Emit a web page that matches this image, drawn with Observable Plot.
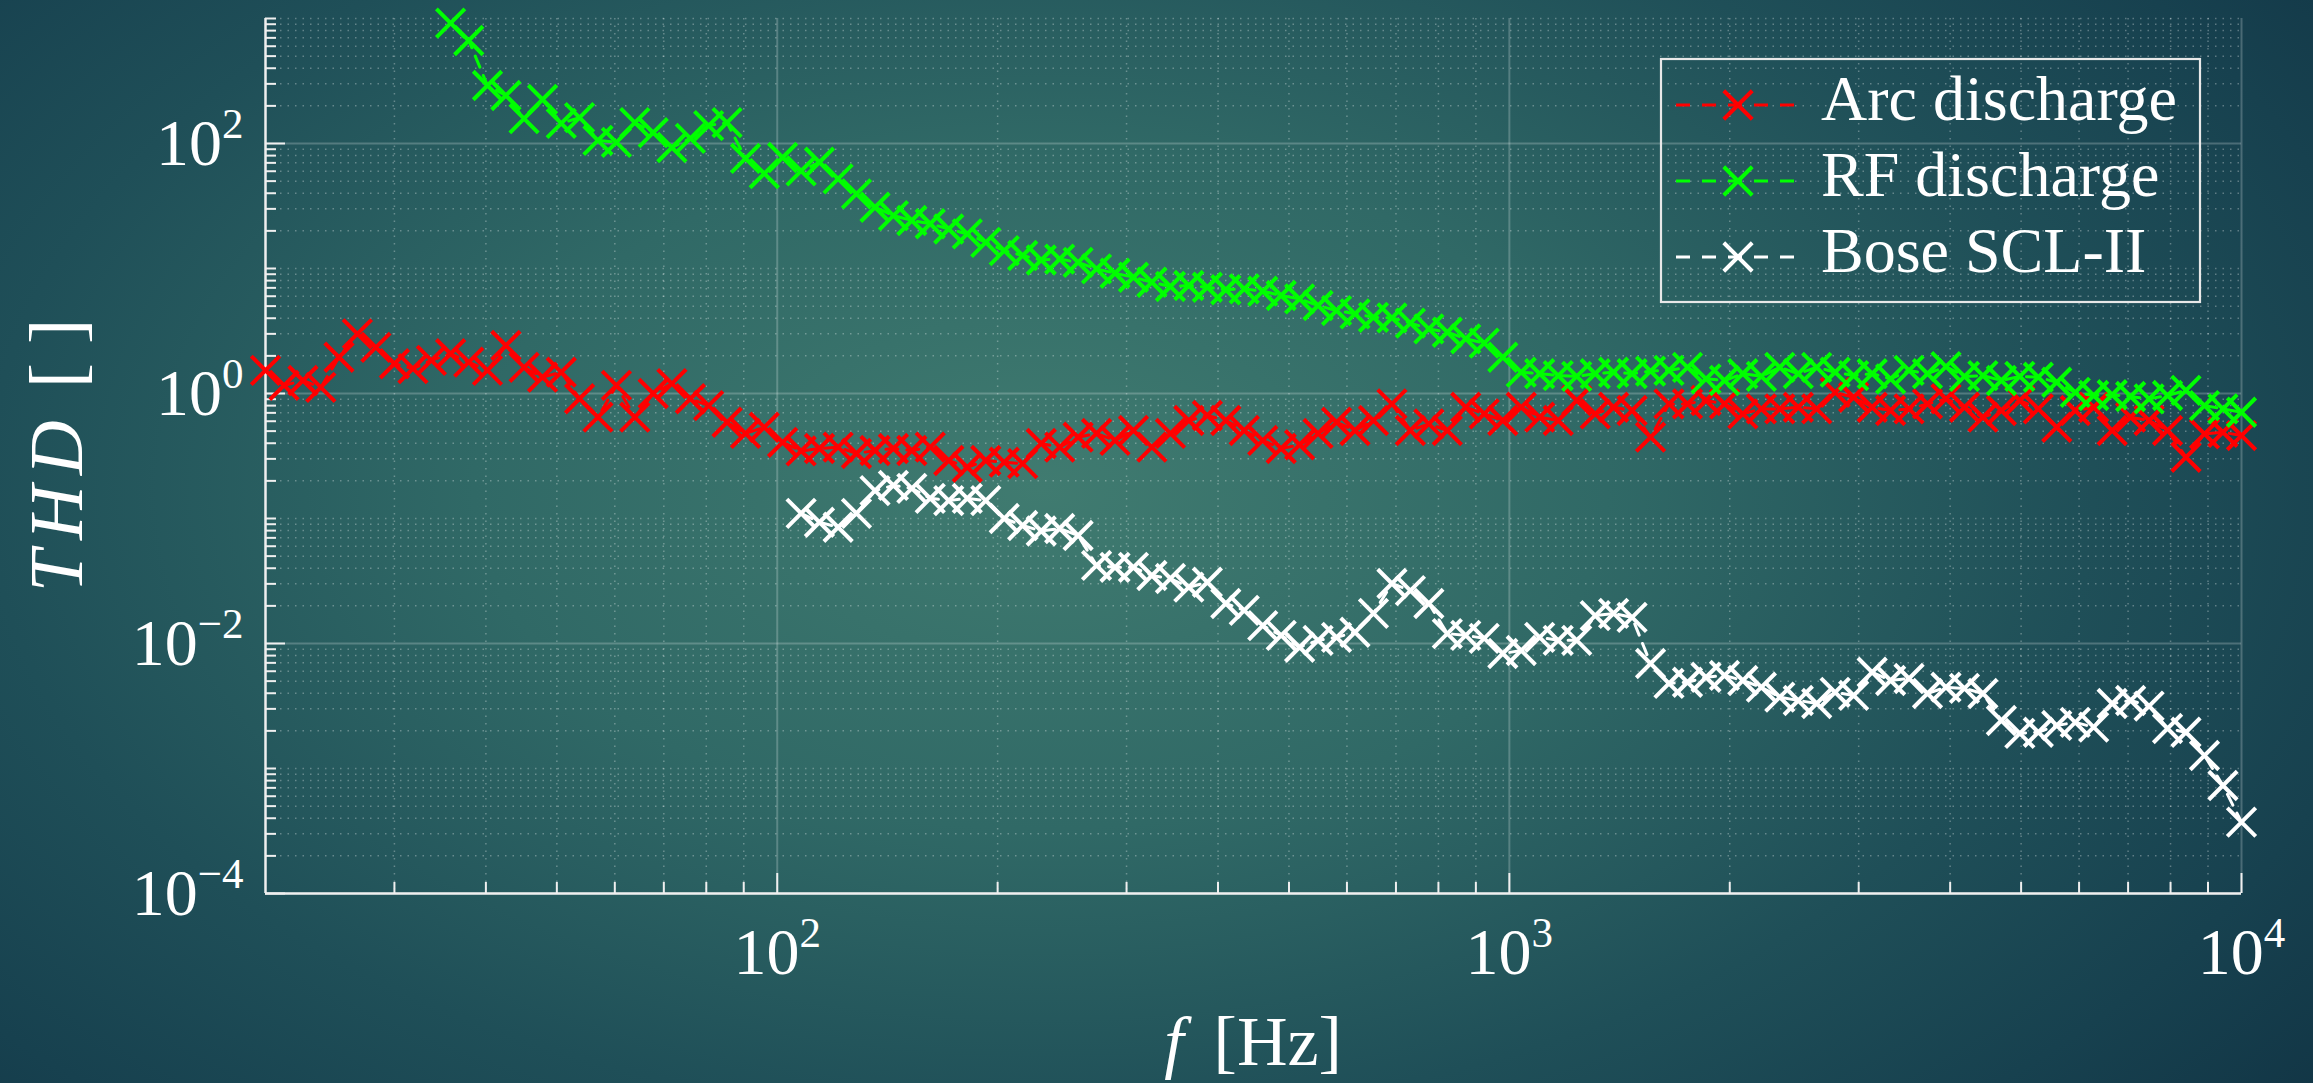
<!DOCTYPE html>
<html>
<head>
<meta charset="utf-8">
<script src="https://cdn.jsdelivr.net/npm/d3@7"></script>
<script src="https://cdn.jsdelivr.net/npm/@observablehq/plot@0.6"></script>
<style>
  html, body { margin: 0; padding: 0; }
  body {
    width: 2313px; height: 1083px; overflow: hidden;
    background: radial-gradient(ellipse 70% 90% at 45% 45%, #407b70 0%, #306966 35%, #1f4f58 65%, #17414f 85%, #123646 100%);
    font-family: "Liberation Serif", serif;
  }
  #chart svg { display: block; }
</style>
</head>
<body>
<div id="chart"></div>
<script>
// ---------- data ----------
const freq = [20.0, 21.2, 22.5, 23.8, 25.2, 26.7, 28.3, 30.0, 31.8, 33.7,
  35.8, 37.9, 40.2, 42.6, 45.1, 47.8, 50.7, 53.7, 56.9, 60.3,
  63.9, 67.7, 71.8, 76.1, 80.6, 85.4, 90.5, 96.0, 101.7, 107.8,
  114.2, 121.1, 128.3, 136.0, 144.1, 152.7, 161.8, 171.5, 181.8, 192.7,
  204.2, 216.4, 229.4, 243.1, 257.6, 273.0, 289.3, 306.6, 324.9, 344.4,
  364.9, 386.8, 409.9, 434.4, 460.4, 487.9, 517.0, 547.9, 580.7, 615.4,
  652.2, 691.2, 732.5, 776.3, 822.7, 871.8, 924.0, 979.6, 1038, 1100,
  1166, 1236, 1310, 1388, 1471, 1559, 1652, 1751, 1856, 1967,
  2084, 2209, 2341, 2481, 2629, 2786, 2953, 3130, 3317, 3515,
  3725, 3948, 4184, 4434, 4699, 4980, 5278, 5593, 5928, 6282,
  6658, 7056, 7478, 7925, 8398, 8901, 9433, 10000];

const arcTHD = [1.53, 1.16, 1.27, 1.12, 1.95, 3.0, 2.34, 1.73, 1.58, 1.84,
  2.08, 1.78, 1.53, 2.42, 1.62, 1.35, 1.48, 0.908, 0.646, 1.16,
  0.646, 1.0, 1.2, 0.908, 0.80, 0.589, 0.479, 0.537, 0.407, 0.347,
  0.363, 0.372, 0.331, 0.35, 0.363, 0.35, 0.372, 0.291, 0.257, 0.291,
  0.282, 0.275, 0.398, 0.372, 0.447, 0.479, 0.421, 0.506, 0.372, 0.479,
  0.608, 0.667, 0.608, 0.506, 0.421, 0.363, 0.389, 0.479, 0.589, 0.506,
  0.608, 0.826, 0.506, 0.571, 0.506, 0.776, 0.687, 0.608, 0.776, 0.646,
  0.608, 0.879, 0.687, 0.776, 0.731, 0.447, 0.826, 0.826, 0.879, 0.826,
  0.687, 0.753, 0.753, 0.776, 0.753, 1.02, 0.933, 0.776, 0.731, 0.753,
  0.826, 0.906, 0.776, 0.646, 0.731, 0.879, 0.753, 0.537, 0.731, 0.776,
  0.506, 0.646, 0.608, 0.506, 0.309, 0.475, 0.49, 0.461];

const rfTHD = [null, null, null, null, null, null, null, null, null, null,
  918, 667, 291, 242, 158, 225, 145, 161, 106, 102,
  147, 122, 92.9, 110, 139, 147, 75.9, 57.5, 77.3, 60.3,
  70.8, 52.1, 39.5, 30.9, 26.5, 24.2, 22.8, 20.7, 18.9, 16.2,
  13.9, 12.7, 11.7, 11.9, 11.2, 9.93, 9.16, 8.51, 7.76, 7.18,
  7.31, 7.08, 6.76, 6.87, 6.58, 6.08, 5.71, 5.06, 4.61, 4.34,
  4.07, 4.03, 3.66, 3.29, 3.09, 2.74, 2.53, 1.95, 1.48, 1.44,
  1.39, 1.37, 1.44, 1.48, 1.44, 1.51, 1.53, 1.62, 1.31, 1.27,
  1.44, 1.37, 1.62, 1.44, 1.62, 1.48, 1.39, 1.44, 1.31, 1.53,
  1.44, 1.64, 1.37, 1.39, 1.27, 1.37, 1.35, 1.23, 1.02, 0.964,
  0.977, 0.946, 0.906, 0.964, 1.06, 0.80, 0.753, 0.708];

const boseTHD = [null, null, null, null, null, null, null, null, null, null,
  null, null, null, null, null, null, null, null, null, null,
  null, null, null, null, null, null, null, null, null, 0.11,
  0.0933, 0.0851, 0.11, 0.167, 0.184, 0.174, 0.145, 0.139, 0.145, 0.139,
  0.1, 0.0879, 0.0794, 0.0832, 0.0731, 0.0421, 0.0407, 0.0407, 0.035, 0.0331,
  0.0282, 0.0309, 0.0209, 0.0184, 0.0139, 0.0116, 0.00933, 0.0106, 0.0112, 0.0123,
  0.0174, 0.0302, 0.0265, 0.0209, 0.012, 0.0116, 0.011, 0.00832, 0.00879, 0.0112,
  0.0106, 0.0106, 0.0167, 0.0174, 0.0162, 0.00692, 0.00479, 0.0049, 0.00537, 0.00555,
  0.00506, 0.00447, 0.00372, 0.0035, 0.00331, 0.00407, 0.00384, 0.00589, 0.00506, 0.00525,
  0.00398, 0.00447, 0.00437, 0.00398, 0.00242, 0.00191, 0.00195, 0.00221, 0.00234, 0.00214,
  0.00331, 0.0035, 0.00316, 0.00209, 0.00195, 0.00127, 0.000731, 0.000372];

const seriesNames = ["Arc discharge", "RF discharge", "Bose SCL-II"];
const seriesColors = ["#ff0000", "#00ff00", "#ffffff"];
const seriesValues = [arcTHD, rfTHD, boseTHD];

const xDomain = [20, 10000];
const yDomain = [1e-4, 1e3];
const xMajorTicks = [100, 1000, 10000];
const yMajorTicks = [1e-4, 1e-2, 1, 100];
const xDecades = [10, 100, 1000];
const yDecades = [1e-4, 1e-3, 1e-2, 1e-1, 1, 10, 100];
const mantissas = [1, 2, 3, 4, 5, 6, 7, 8, 9];

// ---------- derived ----------
const xMinorTicks = xDecades.flatMap(d => mantissas.slice(1).map(m => m * d))
  .filter(v => v > xDomain[0] && v < xDomain[1]);
const yMinorTicks = yDecades.flatMap(d => mantissas.map(m => m * d))
  .filter(v => !yMajorTicks.some(t => Math.abs(t - v) / t < 1e-9))
  .concat([1e3]);

const rows = [];
seriesValues.forEach((arr, s) => arr.forEach((v, i) => {
  if (v != null) rows.push({series: seriesNames[s], f: freq[i], thd: v});
}));

const supFmt = d => "10^" + Math.round(Math.log10(d));
const axisColor = "#efefef";

const seriesMarks = seriesNames.flatMap((name, s) => {
  const data = rows.filter(r => r.series === name);
  return [
    Plot.line(data, {x: "f", y: "thd", stroke: seriesColors[s], strokeWidth: 3, strokeDasharray: "12,9"}),
    Plot.dot(data, {x: "f", y: "thd", symbol: "times", r: 13, stroke: seriesColors[s], strokeWidth: 4})
  ];
});

const plot = Plot.plot({
  width: 2313,
  height: 1083,
  marginLeft: 265,
  marginRight: 72,
  marginTop: 18,
  marginBottom: 190,
  style: {background: "transparent", color: "white", fontFamily: "'Liberation Serif', serif", fontSize: "66px", overflow: "visible"},
  x: {type: "log", domain: xDomain},
  y: {type: "log", domain: yDomain},
  marks: [
    Plot.gridX(xMinorTicks, {stroke: "white", strokeOpacity: 0.3, strokeWidth: 1.5, strokeDasharray: "1.5,6"}),
    Plot.gridY(yMinorTicks, {stroke: "white", strokeOpacity: 0.3, strokeWidth: 1.5, strokeDasharray: "1.5,6"}),
    Plot.gridX(xMajorTicks, {stroke: "white", strokeOpacity: 0.22, strokeWidth: 2}),
    Plot.gridY(yMajorTicks, {stroke: "white", strokeOpacity: 0.22, strokeWidth: 2}),
    Plot.ruleX([xDomain[0]], {stroke: axisColor, strokeWidth: 2.5}),
    Plot.ruleY([yDomain[0]], {stroke: axisColor, strokeWidth: 2.5}),
    Plot.axisX(xMinorTicks, {tickSize: -11, fill: "none", stroke: axisColor, strokeWidth: 2, label: null}),
    Plot.axisX(xMajorTicks, {tickSize: -20, fill: "none", stroke: axisColor, strokeWidth: 2, label: null}),
    Plot.axisY(yMinorTicks, {tickSize: -11, fill: "none", stroke: axisColor, strokeWidth: 2, label: null}),
    Plot.axisY(yMajorTicks, {tickSize: -20, fill: "none", stroke: axisColor, strokeWidth: 2, label: null}),
    Plot.axisX(xMajorTicks, {tickSize: 0, tickPadding: 34, tickFormat: supFmt, fontSize: 66, fill: "white", label: null}),
    Plot.axisY(yMajorTicks, {tickSize: 0, tickPadding: 22, tickFormat: supFmt, fontSize: 66, fill: "white", label: null}),
    ...seriesMarks
  ]
});

document.getElementById("chart").appendChild(plot);

// ---------- typeset tick labels as 10 with superscript ----------
const svg = d3.select(plot);
svg.selectAll("text").each(function () {
  const m = /^10\^(-?\d+)$/.exec(this.textContent);
  if (!m) return;
  const t = d3.select(this);
  t.text(null);
  t.append("tspan").text("10");
  t.append("tspan").attr("dy", -27).attr("font-size", 43).text(m[1].replace("-", "\u2212"));
});

// ---------- axis titles ----------
const xr = plot.scale("x").range, yr = plot.scale("y").range;
const xMid = (xr[0] + xr[1]) / 2, yMid = (yr[0] + yr[1]) / 2;

const xt = svg.append("text").attr("x", xMid).attr("y", 1065).attr("text-anchor", "middle")
  .attr("fill", "white").attr("font-size", 70).attr("font-family", "'Liberation Serif', serif");
xt.append("tspan").attr("font-style", "italic").text("f");
xt.append("tspan").attr("dx", 30).text("[Hz]");

const yt = svg.append("text").attr("transform", `translate(82,${yMid}) rotate(-90)`).attr("text-anchor", "middle")
  .attr("fill", "white").attr("font-size", 76).attr("font-family", "'Liberation Serif', serif");
yt.append("tspan").attr("font-style", "italic").attr("letter-spacing", 10).text("THD");
yt.append("tspan").attr("dx", 22).text("[ ]");

// ---------- legend ----------
const lg = svg.append("g");
lg.append("rect").attr("x", 1661).attr("y", 59).attr("width", 539).attr("height", 243)
  .attr("fill", "none").attr("stroke", "#e8e8e8").attr("stroke-width", 2.2);
seriesNames.forEach((name, i) => {
  const cy = 105 + i * 76;
  lg.append("line").attr("x1", 1676).attr("x2", 1796).attr("y1", cy).attr("y2", cy)
    .attr("stroke", seriesColors[i]).attr("stroke-width", 3).attr("stroke-dasharray", "14,12");
  lg.append("path").attr("d", d3.symbol(d3.symbolTimes, 13 * 13 * Math.PI)())
    .attr("transform", `translate(1738,${cy})`).attr("fill", "none")
    .attr("stroke", seriesColors[i]).attr("stroke-width", 4);
  lg.append("text").attr("x", 1821).attr("y", cy + 15).attr("text-anchor", "start").attr("fill", "white")
    .attr("font-size", 64).attr("font-family", "'Liberation Serif', serif").text(name);
});
</script>
</body>
</html>
